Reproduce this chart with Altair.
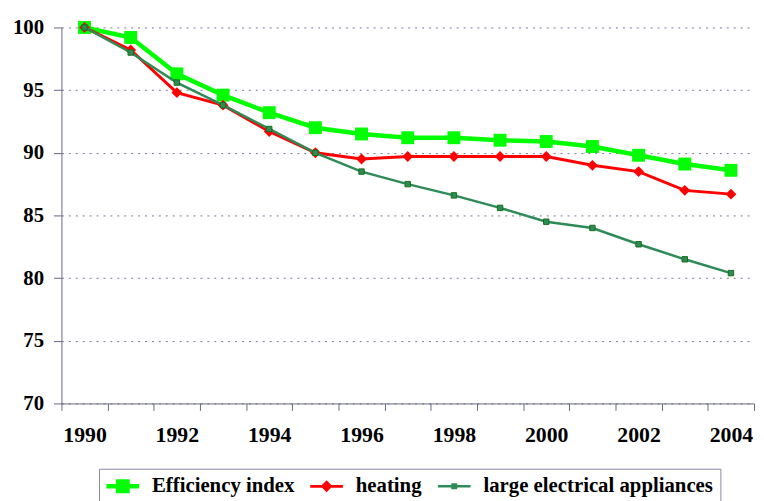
import altair as alt
import pandas as pd

years = [str(y) for y in range(1990, 2005)]
efficiency = [100.0, 99.2, 96.3, 94.6, 93.2, 92.0, 91.5, 91.2, 91.2, 91.0, 90.9, 90.5, 89.8, 89.1, 88.6]
heating = [100.0, 98.2, 94.8, 93.8, 91.7, 90.0, 89.5, 89.7, 89.7, 89.7, 89.7, 89.0, 88.5, 87.0, 86.7]
appliances = [100.0, 98.0, 95.6, 93.8, 91.9, 90.0, 88.5, 87.5, 86.6, 85.6, 84.5, 84.0, 82.7, 81.5, 80.4]
series_names = ["Efficiency index", "heating", "large electrical appliances"]
y_ticks = [70, 75, 80, 85, 90, 95, 100]

rows = []
for name, vals in zip(series_names, [efficiency, heating, appliances]):
    for yr, v in zip(years, vals):
        rows.append({"year": yr, "value": v, "series": name})
df = pd.DataFrame(rows)

FONT = "'Liberation Serif', 'Times New Roman', 'DejaVu Serif', serif"
AXIS_COLOR = "#666688"

x_enc = alt.X(
    "year:O",
    sort=years,
    bandPosition=0.5,
    scale=alt.Scale(type="band", paddingInner=0, paddingOuter=0),
    axis=alt.Axis(
        title=None,
        tickBand="extent",
        labelExpr="toNumber(datum.value) % 2 == 0 ? datum.label : ''",
        labelAngle=0,
        labelFont=FONT,
        labelFontSize=22,
        labelFontWeight="bold",
        labelColor="black",
        labelPadding=14,
        tickSize=7,
        tickColor=AXIS_COLOR,
        domainColor=AXIS_COLOR,
        grid=False,
    ),
)
y_enc = alt.Y(
    "value:Q",
    scale=alt.Scale(domain=[70, 100], nice=False, zero=False),
    axis=alt.Axis(
        title=None,
        values=y_ticks,
        labelFont=FONT,
        labelFontSize=21,
        labelFontWeight="bold",
        labelColor="black",
        labelPadding=10,
        tickSize=8,
        tickColor=AXIS_COLOR,
        domainColor=AXIS_COLOR,
        grid=True,
        gridColor="#777799",
        gridDash=[2, 5],
        gridWidth=1,
    ),
)

styles = [
    dict(color="#00FF00", width=4.5, shape="square", size=170, stroke="#00FF00", sw=0),
    dict(color="#FF0000", width=3, shape="diamond", size=120, stroke="#FF0000", sw=0),
    dict(color="#2E8B57", width=2.5, shape="square", size=30, stroke="#1A6E1A", sw=1),
]

layers = []
for name, st in zip(series_names, styles):
    base = alt.Chart(df).transform_filter(alt.datum.series == name)
    layers.append(
        base.mark_line(color=st["color"], strokeWidth=st["width"]).encode(x=x_enc, y=y_enc)
    )
    layers.append(
        base.mark_point(
            filled=True, shape=st["shape"], size=st["size"], fill=st["color"],
            stroke=st["stroke"], strokeWidth=st["sw"], opacity=1,
        ).encode(x=x_enc, y=y_enc)
    )

# legend glyphs: a line segment with the series marker (unit r = 10px)
legend_paths = [
    "M-1.65,-0.22H1.65V0.22H-1.65Z M-0.7,-0.7H0.7V0.7H-0.7Z",
    "M-1.65,-0.14H1.65V0.14H-1.65Z M0,-0.6L0.6,0L0,0.6L-0.6,0Z",
    "M-1.65,-0.13H1.65V0.13H-1.65Z M-0.3,-0.3H0.3V0.3H-0.3Z",
]
legend_colors = [s["color"] for s in styles]

leg = alt.Legend(
    title=None,
    orient="none",
    legendX=38,
    legendY=446,
    direction="horizontal",
    symbolSize=400,
    symbolOffset=6.5,
    symbolStrokeWidth=0,
    labelFont=FONT,
    labelFontSize=21,
    labelFontWeight="bold",
    labelColor="black",
    labelLimit=400,
    labelOffset=19,
    columnPadding=15,
    padding=7,
    strokeColor="#8888a0",
)

legend_layer = (
    alt.Chart(df)
    .transform_filter("false")
    .mark_point(filled=True, opacity=1)
    .encode(
        x=x_enc,
        y=y_enc,
        color=alt.Color("series:N", scale=alt.Scale(domain=series_names, range=legend_colors), legend=leg),
        shape=alt.Shape("series:N", scale=alt.Scale(domain=series_names, range=legend_paths), legend=leg),
    )
)
layers.append(legend_layer)

chart = (
    alt.layer(*layers)
    .properties(
        width=700,
        height=380,
        autosize=alt.AutoSizeParams(type="none"),
        padding={"left": 54, "top": 17, "right": 2, "bottom": 100},
        background="white",
    )
    .configure_view(strokeWidth=0)
)

chart.save("out.html", embed_options={"renderer": "svg", "actions": False})
